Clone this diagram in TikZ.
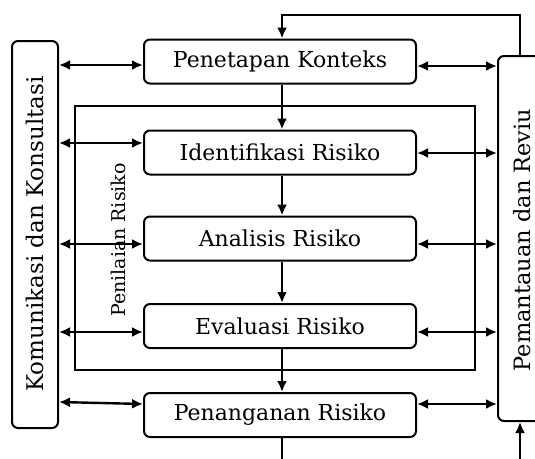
\documentclass[tikz,border=0pt]{standalone}
\usepackage{fontspec}
\setmainfont{DejaVu Serif}
\usetikzlibrary{arrows.meta,positioning}
\begin{document}
\begin{tikzpicture}[x=1pt,y=-1pt,
  tip/.tip={Latex[length=11pt,width=10pt]},
  stage/.style={draw,line width=2pt,rounded corners=6pt,minimum width=272pt,minimum height=44pt,inner sep=0pt,font=\fontsize{22}{26}\selectfont},
  side/.style={draw,line width=2pt,rounded corners=6pt,inner sep=0pt},
  con/.style={line width=2.4pt},
  dbl/.style={con,{tip}-{tip}},
  one/.style={con,-{tip}}]
\clip (0,0) rectangle (535,458);
\fill[white] (0,0) rectangle (535,458);
% frame Penilaian Risiko
\node[draw,line width=2pt,minimum width=400pt,minimum height=264pt,inner sep=0pt] (fr) at (275,238) {};
\node[rotate=90,font=\fontsize{19}{22}\selectfont] (pl) at (118,240) {Penilaian Risiko};
% stages
\node[stage] (pk) at (280,61.5) {Penetapan Konteks};
\node[stage] (ir) at (280,152.5) {Identifikasi Risiko};
\node[stage] (ar) at (280,238.5) {Analisis Risiko};
\node[stage] (er) at (280,326) {Evaluasi Risiko};
\node[stage] (pr) at (280,415) {Penanganan Risiko};
% side boxes
\node[side,minimum width=46pt,minimum height=387pt] (lk) at (35,234.5) {};
\node[rotate=90,font=\fontsize{23}{26}\selectfont] (lkt) at (35,234) {Komunikasi dan Konsultasi};
\node[side,minimum width=50pt,minimum height=365pt] (rb) at (523,238.5) {};
\node[rotate=90,font=\fontsize{22.5}{26}\selectfont] (rbt) at (522,240) {Pemantauan dan Reviu};
% left double arrows
\draw[dbl] (lk.east |- 0,65) -- (pk.west |- 0,65);
\draw[dbl] (lk.east |- 0,143) -- (ir.west |- 0,143);
\draw[dbl] (lk.east |- 0,244) -- (ar.west |- 0,244);
\draw[dbl] (lk.east |- 0,332) -- (er.west |- 0,332);
\draw[dbl] (lk.east |- 0,402) -- (pr.west |- 0,404);
% right double arrows
\draw[dbl] (pk.east |- 0,66) -- (rb.west |- 0,66);
\draw[dbl] (ir.east |- 0,153) -- (rb.west |- 0,153);
\draw[dbl] (ar.east |- 0,244) -- (rb.west |- 0,244);
\draw[dbl] (er.east |- 0,332) -- (rb.west |- 0,332);
\draw[dbl] (pr.east |- 0,404) -- (rb.west |- 0,404);
% vertical flow
\draw[one] ([xshift=2pt]pk.south) -- ([xshift=2pt]ir.north);
\draw[one] ([xshift=2pt]ir.south) -- ([xshift=2pt]ar.north);
\draw[one] ([xshift=2pt]ar.south) -- ([xshift=2pt]er.north);
\draw[one] ([xshift=2pt]er.south) -- ([xshift=2pt]pr.north);
% feedback
\coordinate (c1) at (520,15);
\coordinate (c2) at (282,15);
\draw[one] (rb.north -| c1) -- (c1) -- (c2) -- (pk.north -| c2);
\coordinate (b1) at (282,462);
\coordinate (b2) at (520,462);
\draw[con] (pr.south -| b1) -- (b1);
\draw[one] (b2) -- (rb.south -| b2);
\end{tikzpicture}
\end{document}
